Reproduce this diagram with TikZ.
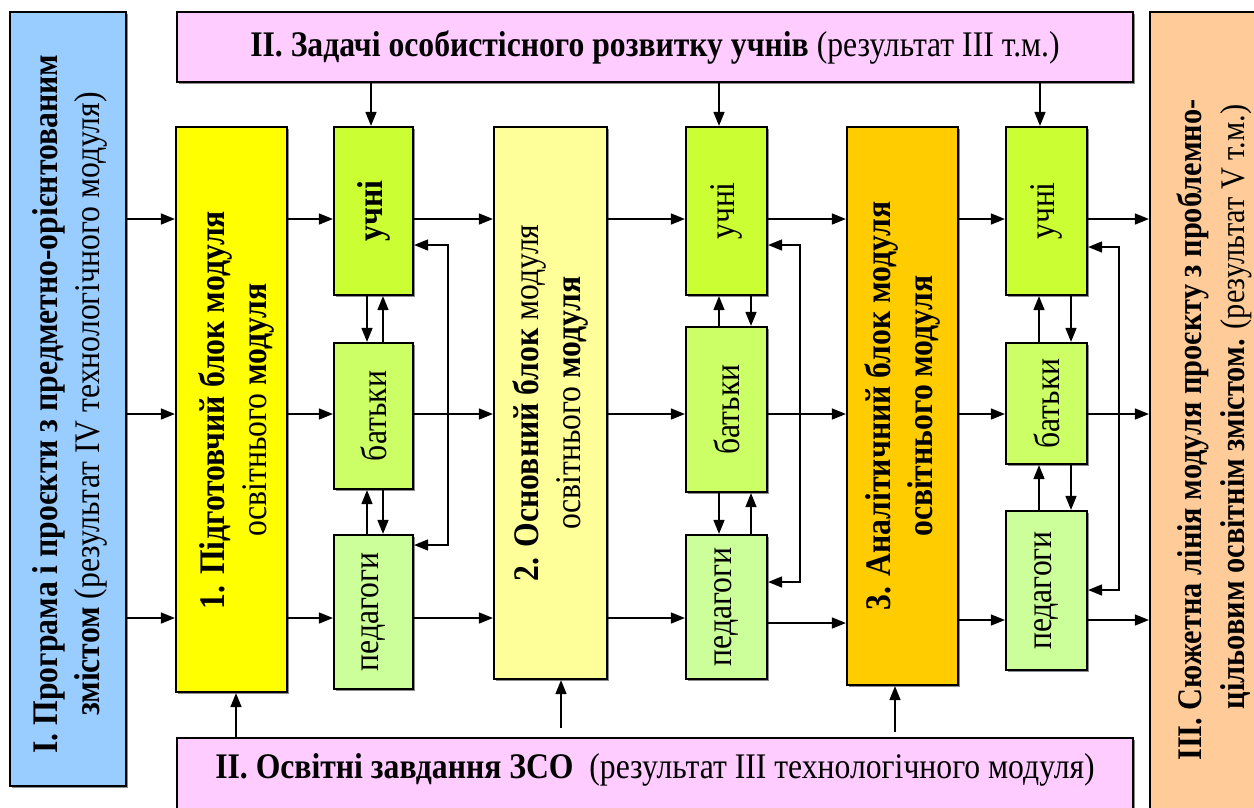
\documentclass[tikz,border=0pt]{standalone}
\usepackage{fontspec}
\setmainfont{Liberation Serif}[FakeStretch=0.88]
\usetikzlibrary{arrows.meta,fit,shadows}
\definecolor{lblue}{HTML}{99CCFF}
\definecolor{pinkb}{HTML}{FFCCFF}
\definecolor{peach}{HTML}{FFCC99}
\definecolor{yel}{HTML}{FFFF00}
\definecolor{lyel}{HTML}{FFFF99}
\definecolor{orng}{HTML}{FFCC00}
\definecolor{gA}{HTML}{CCFF33}
\definecolor{gB}{HTML}{CCFF66}
\definecolor{gC}{HTML}{CCFF99}
\begin{document}
\begin{tikzpicture}[x=1pt,y=-1pt,
  box/.style={draw=black, line width=2.2pt, inner sep=0pt,
    drop shadow={shadow xshift=1.6pt, shadow yshift=-1.6pt, fill=black!45, opacity=1}},
  tip/.tip={Triangle[length=14pt,width=11pt]},
  arr/.style={line width=1.5pt, -tip},
  darr/.style={line width=1.5pt, tip-tip},
  lbl/.style={font=\fontsize{36}{42}\selectfont, align=center, inner sep=0pt},
  rot/.style={lbl, rotate=90}]
\useasboundingbox (0,0) rectangle (1254,807);
\fill[white] (0,0) rectangle (1254,807);
% outer boxes
\node[box, fill=lblue, fit={(10,12) (126,786)}] (L) {};
\node[box, fill=pinkb, fit={(177,12) (1133,82)}] (T) {};
\node[box, fill=pinkb, fit={(177,738) (1133,830)}] (B) {};
\node[box, fill=peach, fit={(1150,12) (1278,830)}] (R) {};
% big blocks
\node[box, fill=yel, fit={(176,127) (287,692)}] (b1) {};
\node[box, fill=lyel, fit={(494,127) (607,679)}] (b2) {};
\node[box, fill=orng, fit={(847,127) (958,685)}] (b3) {};
% small boxes
\node[box, fill=gA, fit={(334,127) (413,295)}] (c1u) {};
\node[box, fill=gB, fit={(334,343) (413,489)}] (c1b) {};
\node[box, fill=gC, fit={(334,535) (413,689)}] (c1p) {};
\node[box, fill=gA, fit={(686,127) (767,295)}] (c2u) {};
\node[box, fill=gB, fit={(686,327) (767,492)}] (c2b) {};
\node[box, fill=gC, fit={(686,535) (767,679)}] (c2p) {};
\node[box, fill=gA, fit={(1006,127) (1087,295)}] (c3u) {};
\node[box, fill=gB, fit={(1006,343) (1087,464)}] (c3b) {};
\node[box, fill=gC, fit={(1006,511) (1087,670)}] (c3p) {};
% texts
\node[rot] (Lt) at (70,404) {\textbf{I. Програма і проєкти з предметно-орієнтованим}\\\textbf{змістом} (результат IV технологічного модуля)};
\node[lbl] (Tt) at (T.center) {\textbf{II. Задачі особистісного розвитку учнів} (результат ІІІ т.м.)};
\node[lbl] (Bt) at (655,770) {\textbf{II. Освітні завдання ЗСО}\ \ (результат ІІІ технологічного модуля)};
\node[rot, font=\fontsize{34.5}{43}\selectfont] (Rt) at (1214,430) {\textbf{ІІІ. Сюжетна лінія модуля проєкту з проблемно-}\\\hspace*{46pt}\textbf{цільовим освітнім змістом.} (результат V т.м.)};
\node[rot] (b1t) at (236,410) {\textbf{1. Підготовчий блок модуля}\\освітнього \textbf{модуля}};
\node[rot] (b2t) at (b2.center) {\textbf{2. Основний блок} модуля\\освітнього \textbf{модуля}};
\node[rot] (b3t) at (b3.center) {\textbf{3. Аналітичний блок модуля}\\\textbf{освітнього модуля}};
\node[rot] (c1ut) at (c1u.center) {\textbf{учні}};
\node[rot] (c1bt) at (c1b.center) {батьки};
\node[rot] (c1pt) at (c1p.center) {педагоги};
\node[rot] (c2ut) at (c2u.center) {учні};
\node[rot] (c2bt) at (c2b.center) {батьки};
\node[rot] (c2pt) at (c2p.center) {педагоги};
\node[rot] (c3ut) at (c3u.center) {учні};
\node[rot] (c3bt) at (c3b.center) {батьки};
\node[rot] (c3pt) at (c3p.center) {педагоги};
% horizontal flows
\foreach \y/\a/\b in {219/L/b1, 414/L/b1, 618/L/b1,
                      219/b1/c1u, 414/b1/c1b, 618/b1/c1p,
                      219/c1u/b2, 414/c1b/b2, 618/c1p/b2,
                      219/b2/c2u, 414/b2/c2b, 618/b2/c2p,
                      219/c2u/b3, 414/c2b/b3, 623/c2p/b3,
                      219/b3/c3u, 414/b3/c3b, 620/b3/c3p,
                      219/c3u/R, 414/c3b/R, 620/c3p/R}
  \draw[arr] (\a.east |- 0,\y) -- (\b.west |- 0,\y);
% from top box
\draw[arr] (T.south -| 371,0) -- (c1u.north -| 371,0);
\draw[arr] (T.south -| 719,0) -- (c2u.north -| 719,0);
\draw[arr] (T.south -| 1040,0) -- (c3u.north -| 1040,0);
% from bottom box
\coordinate (s2) at (561,728);
\coordinate (s3) at (895,732);
\draw[arr] (B.north -| 236,0) -- (b1.south -| 236,0);
\draw[arr] (s2) -- (b2.south -| s2);
\draw[arr] (s3) -- (b3.south -| s3);
% column 1 vertical
\draw[arr] (c1u.south -| 367,0) -- (c1b.north -| 367,0);
\draw[arr] (c1b.north -| 383,0) -- (c1u.south -| 383,0);
\draw[arr] (c1p.north -| 367,0) -- (c1b.south -| 367,0);
\draw[arr] (c1b.south -| 383,0) -- (c1p.north -| 383,0);
% column 2 vertical
\draw[arr] (c2b.north -| 719,0) -- (c2u.south -| 719,0);
\draw[arr] (c2u.south -| 751,0) -- (c2b.north -| 751,0);
\draw[arr] (c2b.south -| 719,0) -- (c2p.north -| 719,0);
\draw[arr] (c2p.north -| 751,0) -- (c2b.south -| 751,0);
% column 3 vertical
\draw[arr] (c3b.north -| 1039,0) -- (c3u.south -| 1039,0);
\draw[arr] (c3u.south -| 1071,0) -- (c3b.north -| 1071,0);
\draw[arr] (c3p.north -| 1039,0) -- (c3b.south -| 1039,0);
\draw[arr] (c3b.south -| 1071,0) -- (c3p.north -| 1071,0);
% feedback loops
\draw[darr] (c1u.east |- 0,245) -- ++(34,0) |- (c1p.east |- 0,545);
\draw[darr] (c2u.east |- 0,245) -- ++(32,0) |- (c2p.east |- 0,582);
\draw[darr] (c3u.east |- 0,247) -- ++(31,0) |- (c3p.east |- 0,590);
\end{tikzpicture}
\end{document}
